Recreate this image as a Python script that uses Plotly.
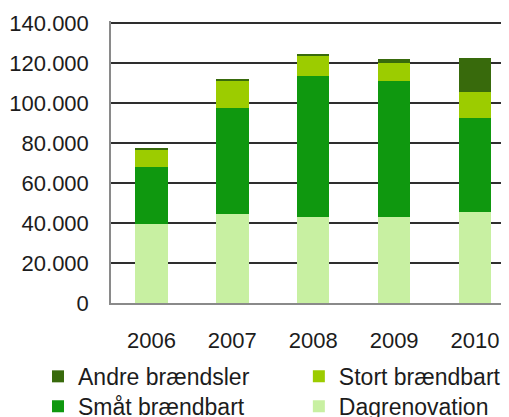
import plotly.graph_objects as go

years = ["2006", "2007", "2008", "2009", "2010"]
dagrenovation = [39500, 44500, 42800, 42800, 45700]
smaat_braendbart = [28500, 53200, 70700, 68200, 46600]
stort_braendbart = [8500, 13300, 10000, 9000, 13400]
andre_braendsler = [800, 1000, 800, 2000, 17000]
y_ticks = [0, 20000, 40000, 60000, 80000, 100000, 120000, 140000]

series = [
    ("Dagrenovation", dagrenovation, "#c8f0a2", "legend4"),
    ("Småt brændbart", smaat_braendbart, "#0f980f", "legend3"),
    ("Stort brændbart", stort_braendbart, "#9ccc00", "legend2"),
    ("Andre brændsler", andre_braendsler, "#386a0c", "legend"),
]

fig = go.Figure()
for name, vals, col, lg in series:
    fig.add_trace(go.Bar(x=years, y=vals, name=name, legend=lg,
                         marker=dict(color=col, line=dict(width=0)), width=0.4))

col1_x, col2_x = -0.1834, 0.472
row1_y, row2_y = -0.184, -0.29
leg_common = dict(orientation="v", xanchor="left", yanchor="top",
                  font=dict(size=23), bgcolor="rgba(0,0,0,0)", itemwidth=30)
grid_col = "#2e2e2e"

# page body has an 8px margin, so the figure is 8px smaller than the window
fig.update_layout(
    barmode="stack",
    width=501, height=409,
    margin=dict(l=103, r=0, t=13, b=114, autoexpand=False),
    paper_bgcolor="white", plot_bgcolor="white",
    separators=",.",
    font=dict(family="Liberation Sans, Arial, sans-serif", color="#1c1c1c", size=22),
    legend=dict(x=col1_x, y=row1_y, **leg_common),
    legend2=dict(x=col2_x, y=row1_y, **leg_common),
    legend3=dict(x=col1_x, y=row2_y, **leg_common),
    legend4=dict(x=col2_x, y=row2_y, **leg_common),
    showlegend=True,
)
# reinforce the top gridline at the maximum tick
fig.add_shape(type="line", xref="paper", x0=0, x1=1, yref="y", y0=y_ticks[-1], y1=y_ticks[-1],
              line=dict(color=grid_col, width=2), layer="below")
fig.update_xaxes(type="category", range=[-0.5, 4.42], showgrid=False,
                 showline=True, linecolor="#8a8a8a", linewidth=1.5,
                 ticks="", ticklabelstandoff=17)
fig.update_yaxes(range=[0, 141000], tickvals=y_ticks,
                 tickformat=",.0f", showgrid=True, gridcolor=grid_col, gridwidth=1.5,
                 showline=True, linecolor="#8a8a8a", linewidth=1.5, zeroline=False,
                 ticks="", ticklabelstandoff=16)

fig.write_html("out.html")
